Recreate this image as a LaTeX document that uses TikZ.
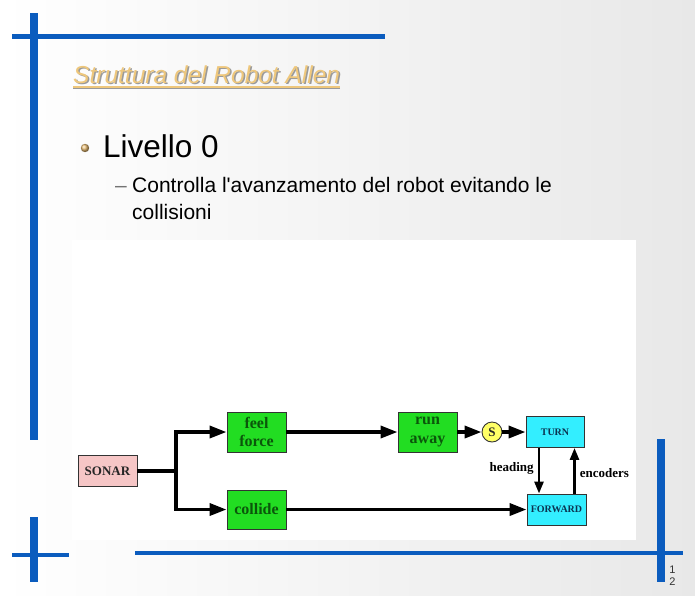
\documentclass[tikz,border=0pt]{standalone}
\usepackage{fontspec}
\setmainfont{Liberation Sans}
\newfontfamily\tms{Liberation Serif}
\usetikzlibrary{arrows.meta,positioning}
\definecolor{sBlue} {HTML}{0B5CBE}
\definecolor{sGold} {HTML}{EEC77C}
\definecolor{sShad} {HTML}{9A9A9A}
\definecolor{sGreen}{HTML}{22DD22}
\definecolor{sGtxt} {HTML}{0B560B}
\definecolor{sCyan} {HTML}{33EEFF}
\definecolor{sCtxt} {HTML}{0B3350}
\definecolor{sPink} {HTML}{F6C6C6}
\definecolor{sYell} {HTML}{FFFF66}
\definecolor{sEdge} {HTML}{333333}

\begin{document}
\begin{tikzpicture}[
  x=1pt, y=-1pt,
  txt/.style={inner sep=0pt, anchor=base west},
  bar/.style={draw=none, fill=sBlue},
  blk/.style={draw=sEdge, line width=0.9pt, inner sep=0pt, align=center,
              font=\tms\bfseries},
  gbox/.style={blk, fill=sGreen, text=sGtxt, minimum width=59pt,
               font=\tms\bfseries\fontsize{16}{18.5}\selectfont},
  cbox/.style={blk, fill=sCyan, text=sCtxt, minimum width=58pt, minimum height=31pt,
               font=\tms\bfseries\fontsize{10}{10}\selectfont},
  ar/.style={-{Triangle[length=17pt, width=12pt]}, line width=3.5pt},
  arv/.style={-{Triangle[length=12pt, width=9pt]}, line width=2.6pt},
  lbl/.style={inner sep=0pt, font=\tms\bfseries\fontsize{13}{13}\selectfont},
]
\useasboundingbox (0,0) rectangle (695,595);

% ---------------------------------------------------------------- sfondo
\shade[shading angle=135, left color=white, right color=black!9] (0,0) rectangle (695,595);
\fill[white] (72,240) rectangle (636,540);

% ---------------------------------------------------------------- barre
\fill[bar] (30,13) rectangle (38,440);
\fill[bar] (12,34) rectangle (385,38.5);
\fill[bar] (30,517) rectangle (38,582);
\fill[bar] (12,553) rectangle (69,557);
\fill[bar] (135,551) rectangle (683,555);
\fill[bar] (657,439) rectangle (665,582);

% ---------------------------------------------------------------- titolo
\node[txt, text=sGold, font=\itshape\fontsize{24.5}{24.5}\selectfont] at (73,83) (title)
  {\rlap{\kern1.5pt\raisebox{-1.5pt}{\textcolor{sShad}{Struttura del Robot Allen}}}Struttura del Robot Allen};
\draw[sShad, line width=1.6pt] ([yshift=-5.5pt]title.base west) -- ([yshift=-5.5pt]title.base east);
\draw[sGold, line width=1.6pt] ([yshift=-4pt]title.base west) -- ([yshift=-4pt]title.base east);

% ---------------------------------------------------------------- testo
\shade[ball color=sGold!80!brown] (85,148) circle (4.2);
\node[txt, font=\fontsize{31.5}{31.5}\selectfont] at (103,157) (liv) {Livello 0};
\node[txt, text=black!55, font=\fontsize{21}{21}\selectfont] at (115,192) (dash) {--};
\node[txt, font=\fontsize{21}{21}\selectfont] at (132,192) (l1)
  {Controlla l\textquotesingle avanzamento del robot evitando le};
\node[txt, font=\fontsize{21}{21}\selectfont] at (132,219) (l2) {collisioni};

% ---------------------------------------------------------------- blocchi
\node[blk, fill=sPink, text=black!85, minimum width=59pt, minimum height=31pt,
      font=\tms\bfseries\fontsize{13}{13}\selectfont] at (107.5,471) (sonar) {SONAR};
\node[gbox, minimum height=40pt] at (256.5,432) (feel) {feel\\force};
\node[gbox, minimum height=39pt] at (256.5,509.5) (collide) {collide};
\node[gbox, minimum height=40pt] at (427.5,432) (run) {run\\away};
\node[blk, circle, fill=sYell, text=black!85, minimum size=20pt,
      font=\tms\bfseries\fontsize{13}{13}\selectfont] at (492,432) (s) {S};
\node[cbox] at (555,432) (turn) {TURN};
\node[cbox, minimum width=59pt] at (556.5,509.5) (fwd) {FORWARD};
\coordinate (j) at (176,471);

% ---------------------------------------------------------------- frecce
\draw[line width=3.5pt] (sonar.east) -- (j);
\draw[ar] (j) |- (feel.west);
\draw[ar] (j) |- (collide.west);
\draw[ar] (feel.east) -- (run.west);
\draw[ar] (run.east) -- (s.west);
\draw[ar] (s.east) -- (turn.west);
\draw[ar] (collide.east) -- (fwd.west);
\draw[arv] ([xshift=-16pt]turn.south) -- ([xshift=-16pt]turn.south |- fwd.north)
  node[lbl, pos=0.45, left=4pt] {heading};
\draw[arv] ([xshift=18pt]fwd.north) -- ([xshift=18pt]fwd.north |- turn.south)
  node[lbl, pos=0.45, right=4pt] {encoders};

% numero pagina
\node[inner sep=0pt, align=left, text=black!80, font=\fontsize{11}{12}\selectfont]
  at (672.5,576) (pg) {1\\2};

\end{tikzpicture}
\end{document}
